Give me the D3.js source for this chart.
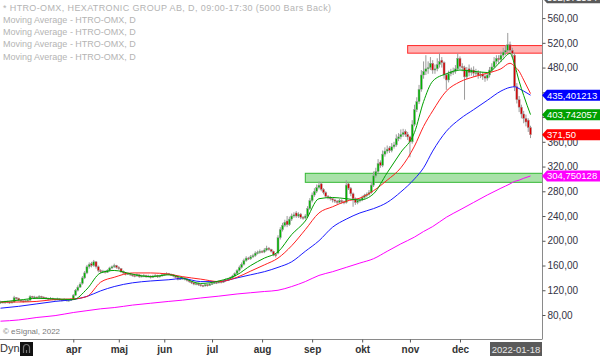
<!DOCTYPE html>
<html><head><meta charset="utf-8">
<script src="https://cdn.jsdelivr.net/npm/d3@7"></script>
<style>
html,body{margin:0;padding:0;background:#fff;}
svg{display:block;font-family:"Liberation Sans",Arial,sans-serif;}
</style></head>
<body><svg id="c" width="600" height="356"></svg>
<script>
// ---- DATA ----
const opens = [100,101,100,102,101,100,101,108,107,104,103,102,103,104,110,108,109,108,110,109,
108,107,106,107,106,105,106,105,104,105,104,104,105,112,120,125,131,140,148,158,
163,160,166,158,152,150,151,149,152,156,158,160,157,155,150,148,146,147,145,144,
143,145,142,143,144,142,143,141,143,144,142,143,145,146,147,146,145,143,141,138,
139,140,138,136,134,132,130,131,129,128,127,129,128,130,131,133,132,134,133,135,
137,138,140,143,147,152,157,162,168,172,171,174,176,180,181,183,182,185,188,186,
183,178,180,205,218,225,232,226,235,240,245,240,243,238,237,240,252,265,274,280,
286,292,283,278,272,270,268,266,264,262,265,263,262,292,285,276,268,262,265,266,
270,273,275,278,290,305,312,327,322,340,345,350,346,352,355,365,368,372,377,372,
368,360,388,412,425,445,468,474,478,480,487,476,478,485,492,488,468,460,470,473,
474,478,495,482,480,465,478,472,476,471,472,468,469,466,463,468,476,481,490,495,
493,500,505,508,517,508,500,449,428,416,405,398,395,383];
const highs = [103,102,103,103,102,103,111,109,108,105,104,104,106,112,111,111,110,112,111,110,
109,108,109,108,107,108,107,106,107,106,105,107,114,122,128,133,143,151,161,165,
166,169,167,160,154,153,152,154,158,160,163,161,159,156,152,149,149,148,147,145,
147,146,145,146,145,145,144,145,146,145,145,147,148,149,148,147,146,144,142,141,
142,141,139,137,135,133,133,132,130,129,131,130,132,133,135,134,136,135,137,139,
140,142,145,149,154,160,165,171,175,174,177,179,183,184,186,185,188,192,190,187,
184,180,209,222,229,234,240,239,244,246,248,246,245,240,243,256,269,278,285,291,
296,295,285,280,274,272,270,268,266,268,267,265,298,294,287,278,270,268,269,273,
276,278,282,295,312,318,332,330,346,351,354,353,358,360,372,374,380,381,380,376,
370,395,420,432,452,476,490,500,490,497,492,485,495,503,497,490,471,475,478,480,
484,503,498,487,483,481,485,480,482,478,476,474,473,470,472,481,487,497,500,500,
506,512,516,536,522,512,504,455,434,420,410,404,398,386];
const lows = [98,99,98,99,98,99,100,105,102,101,100,101,101,103,107,106,106,107,107,106,
105,104,105,104,103,104,103,102,103,102,102,103,104,111,118,124,129,138,146,155,
157,158,155,149,147,148,147,148,150,154,156,155,153,148,146,144,145,143,142,141,
142,140,141,141,140,141,139,140,141,140,141,142,143,145,144,143,141,139,136,137,
137,136,134,132,130,128,128,127,126,125,126,126,127,129,130,130,131,131,132,134,
136,137,139,142,146,150,155,160,166,169,169,172,174,178,179,180,180,183,184,181,
175,173,178,202,215,222,222,224,232,237,237,237,235,234,235,238,250,262,271,277,
283,280,275,269,267,265,262,261,259,260,260,259,260,282,272,255,258,259,262,264,
268,270,273,276,287,302,309,318,319,336,341,342,343,349,352,361,364,368,368,363,
335,357,385,408,421,441,462,468,470,476,470,470,474,480,480,462,444,456,466,468,
470,475,477,474,428,461,466,467,465,466,462,463,460,457,459,464,472,478,485,487,
489,496,500,504,502,496,442,422,408,398,390,385,376,366];
const closes = [101,100,102,101,100,101,108,107,104,103,102,103,104,110,109,109,108,110,109,108,
107,106,107,106,105,106,105,104,105,104,104,105,112,120,125,130,140,148,158,162,
160,166,158,152,150,151,149,152,156,158,160,157,155,150,148,146,147,145,144,143,
145,142,143,144,142,143,141,143,144,142,143,145,146,147,146,145,143,141,138,139,
140,138,136,134,132,130,131,129,128,127,129,128,130,131,133,132,134,133,135,137,
138,140,143,147,152,157,162,168,172,171,174,176,180,181,183,182,185,188,186,183,
178,176,205,218,225,230,226,235,240,242,240,243,238,237,240,252,265,274,280,286,
290,283,278,272,270,268,266,264,262,265,263,262,290,285,276,268,262,265,266,270,
273,275,278,290,305,312,325,322,340,345,348,346,352,355,365,368,372,375,372,368,
360,388,412,425,445,468,474,478,480,487,476,478,485,490,488,468,460,470,473,474,
478,495,482,480,465,476,472,476,471,472,468,469,466,463,468,476,481,490,495,493,
500,505,508,517,508,503,449,428,416,405,398,392,383,371.5];

// moving averages sampled at these bar numbers
const maBars = [0,8,16,24,32,38,44,50,58,66,74,80,88,96,104,110,116,122,128,134,
140,146,152,158,164,170,176,182,186,190,196,202,208,214,220,224,226,228,230,233];
const maGreen = [101,104,107,106,105,122,148,152,146,142,145,140,131,135,145,160,172,182,210,232,
268,270,268,266,276,310,343,375,425,458,470,476,474,472,490,503,485,458,435,404];
const maRed = [101,101,102,105,106,110,133,141,148,148,146,142,138,134,141,151,161,172,192,218,
245,255,264,269,281,298,318,353,385,410,442,457,465,471,478,487,482,474,460,438];
const maBlue = [91,94,98,102,105,110,119,126,132,135,137,139,134,134,140,145,150,157,166,183,
200,222,235,245,252,262,279,300,318,345,377,397,412,427,442,448,449,446,442,435.4];
const maMagenta = [70,72,76,79,84,87,90,92,96,99,102,104,107.5,110.5,114,116,118,120,126,134,
144,150,157,164,171,183,195,206,215,223,238,250,262,274,285,292,296,298,301,304.75];

const monthBars = [32,52,72,93,115,137,159,180,202];
const monthLabels = ["apr","maj","jun","jul","aug","sep","okt","nov","dec"];
const lastDateLabel = "2022-01-18";
const yTicks = [80,120,160,200,240,280,320,360,400,440,480,520,560];

// zones: [start bar, low, high]
const redZone = [179, 503.3, 515.6];
const greenZone = [134, 294.5, 309.1];

const tags = [
  {v:592.971584, t:"592,971584", c:"#5a5a5a"},
  {v:435.401213, t:"435,401213", c:"#0000ff"},
  {v:403.742057, t:"403,742057", c:"#00a000"},
  {v:371.50, t:"371,50", c:"#ff0000"},
  {v:304.750128, t:"304,750128", c:"#ff00ff"}
];
const legendLines = [
  "* HTRO-OMX, HEXATRONIC GROUP AB, D, 09:00-17:30 (5000 Bars Back)",
  "Moving Average - HTRO-OMX, D",
  "Moving Average - HTRO-OMX, D",
  "Moving Average - HTRO-OMX, D",
  "Moving Average - HTRO-OMX, D"
];

// ---- CHART ----
const svg = d3.select("#c");
const plotR = 542, plotB = 339.5;
const x = d3.scaleLinear().domain([0, closes.length - 1]).range([0.5, 530.5]);
const y = d3.scaleLinear().domain([80, 560]).range([315, 18.1]);

svg.append("defs").append("clipPath").attr("id","clip")
  .append("rect").attr("x",0).attr("y",0).attr("width",plotR).attr("height",plotB);

const plot = svg.append("g").attr("clip-path","url(#clip)");

// zones
function zone(z, fill, stroke){
  plot.append("rect")
    .attr("x", x(z[0])).attr("y", y(z[2]))
    .attr("width", plotR - x(z[0]) + 2).attr("height", y(z[1]) - y(z[2]))
    .attr("fill", fill).attr("stroke", stroke).attr("stroke-width", 1);
}
zone(redZone, "#ffb4b4", "#ff2a2a");
zone(greenZone, "#a9e2a9", "#33b833");

// candles
const idx = d3.range(closes.length);
const cg = plot.append("g");
cg.selectAll("line.w").data(idx).join("line")
  .attr("x1", i => x(i)).attr("x2", i => x(i))
  .attr("y1", i => y(highs[i])).attr("y2", i => y(lows[i]))
  .attr("stroke", "#9a9a9a").attr("stroke-width", 1);
cg.selectAll("rect.b").data(idx).join("rect")
  .attr("x", i => x(i) - 1).attr("width", 2)
  .attr("y", i => y(Math.max(opens[i], closes[i])))
  .attr("height", i => Math.max(1, Math.abs(y(opens[i]) - y(closes[i]))))
  .attr("fill", i => closes[i] >= opens[i] ? "#00b400" : "#d40000")
  .attr("stroke", "#a0a0a0").attr("stroke-width", 0.5);

// moving averages
const line = vals => d3.line().x((d,k) => x(maBars[k])).y(d => y(d)).curve(d3.curveMonotoneX)(vals);
[[maMagenta,"#ff00ff"],[maBlue,"#1a1aff"],[maRed,"#ff2020"],[maGreen,"#00a000"]].forEach(([v,c]) => {
  plot.append("path").attr("d", line(v)).attr("fill","none").attr("stroke",c).attr("stroke-width",1);
});

// legend
svg.append("g").selectAll("text").data(legendLines).join("text")
  .attr("x", 3).attr("y", (d,k) => 10.5 + k*12.3)
  .attr("font-size", 9).attr("fill", "#b4b4b4")
  .attr("textLength", (d,k) => k === 0 ? 328 : null)
  .attr("lengthAdjust", "spacing")
  .text(d => d);

svg.append("text").attr("x", 3).attr("y", 334).attr("font-size", 8)
  .attr("fill", "#7a7a7a").text("© eSignal, 2022");

// frame
svg.append("line").attr("x1",0).attr("x2",plotR).attr("y1",plotB).attr("y2",plotB)
  .attr("stroke","#8a8a8a");
svg.append("line").attr("x1",plotR+0.5).attr("x2",plotR+0.5).attr("y1",0).attr("y2",plotB)
  .attr("stroke","#8a8a8a");

// right axis (labels hidden where a value tag sits on top of them)
const fmt = d => d3.format(".2f")(d).replace(".", ",");
const covered = d => tags.some(t => Math.abs(y(t.v) - y(d)) < 6);
const ra = svg.append("g").attr("transform", `translate(${plotR+0.5},0)`)
  .call(d3.axisRight(y).tickValues(yTicks).tickFormat(d => covered(d) ? "" : fmt(d)).tickSize(3).tickPadding(2));
ra.select(".domain").remove();
ra.selectAll("line").attr("stroke","#555");
ra.selectAll("text").attr("font-size", 10).attr("fill","#333344").attr("font-family","Liberation Sans, Arial, sans-serif");

// bottom axis
const ba = svg.append("g").attr("transform", `translate(0,${plotB})`)
  .call(d3.axisBottom(x).tickValues(monthBars).tickFormat((d,k) => monthLabels[k]).tickSize(3).tickPadding(3.5));
ba.select(".domain").remove();
ba.selectAll("line").attr("stroke","#555");
ba.selectAll("text").attr("font-size", 10).attr("font-weight","bold").attr("fill","#333")
  .attr("font-family","Liberation Sans, Arial, sans-serif");

svg.append("text").attr("x", 0).attr("y", 351.5).attr("font-size", 11)
  .attr("fill","#333").text("Dyn");
svg.append("rect").attr("x",20).attr("y",342).attr("width",13).attr("height",14).attr("fill","#111");
svg.append("path").attr("d","M23.5,353 V347.5 a3,3 0 0 1 6,0 V353 M26.5,350 V353")
  .attr("fill","none").attr("stroke","#777").attr("stroke-width",1.2);

// last date box
const dg = svg.append("g");
dg.append("rect").attr("x", 490).attr("y", 342).attr("width", 52).attr("height", 14).attr("fill","#5a5a5a");
dg.append("text").attr("x", 516).attr("y", 353).attr("text-anchor","middle")
  .attr("font-size", 9.5).attr("fill","#e8e8e8").text(lastDateLabel);

// value tags
const tg = svg.append("g");
tags.forEach(t => {
  const cy = y(t.v);
  tg.append("path")
    .attr("d", `M${plotR},${cy} L${plotR+5},${cy-5.5} L600,${cy-5.5} L600,${cy+5.5} L${plotR+5},${cy+5.5} Z`)
    .attr("fill", t.c);
  tg.append("text").attr("x", plotR + 5).attr("y", cy + 3.4)
    .attr("font-size", 9.5).attr("fill", "#fff").text(t.t);
});
</script></body></html>
